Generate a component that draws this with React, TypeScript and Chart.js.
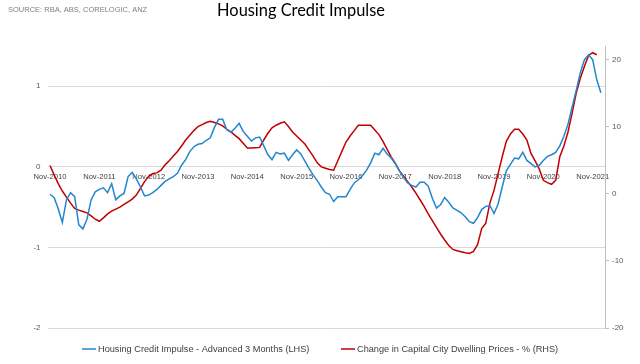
import React, { useEffect, useRef } from "react";
import { Chart, registerables } from "chart.js";

Chart.register(...registerables);

const titleText = "Housing Credit Impulse";
const sourceText = "SOURCE: RBA, ABS, CORELOGIC, ANZ";
const seriesNames = [
  "Housing Credit Impulse - Advanced 3 Months (LHS)",
  "Change in Capital City Dwelling Prices - % (RHS)",
];
const monthNames = ["Jan", "Feb", "Mar", "Apr", "May", "Jun", "Jul", "Aug", "Sep", "Oct", "Nov", "Dec"];
// monthly categories Nov-2010 .. Feb-2022
const categories: string[] = [];
for (let i = 0; i < 136; i++) {
  const m = (10 + i) % 12;
  const y = 2010 + Math.floor((10 + i) / 12);
  categories.push(`${monthNames[m]}-${y}`);
}

const creditImpulse = [
  -0.34, -0.38, -0.52, -0.69, -0.41, -0.32, -0.37, -0.72, -0.77, -0.65,
  -0.41, -0.31, -0.28, -0.26, -0.32, -0.21, -0.41, -0.36, -0.33, -0.12,
  -0.07, -0.15, -0.25, -0.36, -0.35, -0.32, -0.28, -0.23, -0.18, -0.15,
  -0.12, -0.08, 0.02, 0.09, 0.19, 0.25, 0.28, 0.29, 0.33, 0.36,
  0.49, 0.59, 0.59, 0.46, 0.43, 0.48, 0.54, 0.44, 0.38, 0.32,
  0.36, 0.37, 0.26, 0.15, 0.09, 0.18, 0.16, 0.17, 0.08, 0.15,
  0.21, 0.16, 0.07, -0.02, -0.1, -0.17, -0.25, -0.32, -0.34, -0.43,
  -0.37, -0.37, -0.37, -0.28, -0.2, -0.16, -0.11, -0.04, 0.05, 0.17,
  0.15, 0.23, 0.16, 0.11, 0.04, -0.05, -0.13, -0.2, -0.23, -0.25,
  -0.19, -0.19, -0.24, -0.39, -0.51, -0.47, -0.38, -0.44, -0.51, -0.54,
  -0.57, -0.62, -0.68, -0.7, -0.63, -0.53, -0.49, -0.48, -0.58, -0.46,
  -0.25, -0.05, 0.03, 0.11, 0.1, 0.18, 0.08, 0.04, 0.0, 0.02,
  0.08, 0.13, 0.15, 0.18, 0.26, 0.38, 0.53, 0.74, 0.95, 1.17,
  1.33, 1.39, 1.33, 1.08, 0.92,
];

const dwellingPrices = [
  4.2, 2.8, 1.5, 0.4, -0.5, -1.4, -2.2, -2.45, -2.65, -2.85,
  -3.3, -3.8, -4.1, -3.6, -3.0, -2.6, -2.3, -2.0, -1.6, -1.2,
  -0.8, -0.2, 0.8, 1.8, 2.6, 3.0, 3.1, 3.5, 4.3, 4.9,
  5.6, 6.3, 7.1, 8.0, 8.7, 9.4, 10.0, 10.3, 10.6, 10.8,
  10.6, 10.4, 10.1, 9.6, 9.2, 8.7, 8.2, 7.5, 6.8, 6.8,
  6.85, 6.9, 8.0, 9.0, 9.8, 10.2, 10.5, 10.7, 10.0, 9.2,
  8.6, 8.0, 7.4, 6.5, 5.6, 4.6, 4.0, 3.8, 3.6, 3.5,
  4.9, 6.3, 7.7, 8.6, 9.4, 10.2, 10.2, 10.2, 10.2, 9.5,
  8.8, 7.8, 6.6, 5.5, 4.5, 3.4, 2.6, 1.8, 1.0, 0.1,
  -0.9, -1.9, -3.0, -4.0, -5.0, -6.0, -6.9, -7.7, -8.3, -8.5,
  -8.65, -8.8, -8.9, -8.6, -7.6, -5.2, -4.4, -1.4, 0.5, 3.0,
  5.5, 7.8, 8.9, 9.6, 9.6, 8.9, 8.0, 6.0, 4.9, 3.7,
  2.0, 1.65, 1.4, 2.0, 5.5, 7.1, 9.2, 12.0, 15.0, 17.2,
  19.0, 20.6, 21.0, 20.7,
];

const BLUE = "#2386CE";
const RED = "#C00000";
const AXIS_FONT = "'Liberation Sans', Arial, sans-serif";

const decorPlugin = {
  id: "decor",
  afterDraw(chart: any) {
    const ctx = chart.ctx;
    ctx.save();
    // source
    ctx.fillStyle = "#7f7f7f";
    ctx.font = `7.5px ${AXIS_FONT}`;
    ctx.textAlign = "left";
    ctx.textBaseline = "middle";
    ctx.fillText(sourceText, 8, 10);
    // title
    ctx.fillStyle = "#000000";
    ctx.font = "16.4px Lato, 'Open Sans', sans-serif";
    ctx.textAlign = "center";
    ctx.fillText(titleText, 301, 11);
    // legend
    const items = [
      { x: 82, color: BLUE, text: seriesNames[0] },
      { x: 341, color: RED, text: seriesNames[1] },
    ];
    ctx.font = `9.2px ${AXIS_FONT}`;
    ctx.textAlign = "left";
    for (const it of items) {
      ctx.strokeStyle = it.color;
      ctx.lineWidth = 1.5;
      ctx.beginPath();
      ctx.moveTo(it.x, 349);
      ctx.lineTo(it.x + 14, 349);
      ctx.stroke();
      ctx.fillStyle = "#404040";
      ctx.fillText(it.text, it.x + 16, 349);
    }
    ctx.restore();
  },
};

export default function App() {
  const ref = useRef<HTMLCanvasElement>(null);
  useEffect(() => {
    document.body.style.margin = "0";
    const chart = new Chart(ref.current as HTMLCanvasElement, {
      type: "line",
      data: {
        labels: categories,
        datasets: [
          {
            label: seriesNames[0],
            data: creditImpulse,
            borderColor: BLUE,
            backgroundColor: BLUE,
            borderWidth: 1.5,
            pointRadius: 0,
            tension: 0,
            yAxisID: "y",
          },
          {
            label: seriesNames[1],
            data: dwellingPrices,
            borderColor: RED,
            backgroundColor: RED,
            borderWidth: 1.5,
            pointRadius: 0,
            tension: 0,
            yAxisID: "y1",
          },
        ],
      },
      options: {
        animation: false,
        responsive: false,
        layout: { padding: { top: 46, bottom: 36, left: 0, right: 0 } },
        plugins: {
          legend: { display: false },
          tooltip: { enabled: false },
          title: { display: false },
        },
        scales: {
          x: {
            type: "category",
            position: { y: 0 } as any,
            grid: { display: false, drawTicks: false },
            border: { display: false },
            ticks: {
              autoSkip: false,
              maxRotation: 0,
              minRotation: 0,
              padding: 5,
              color: "#404040",
              font: { family: AXIS_FONT, size: 7.6 },
              callback: (_v: any, i: number) => (i % 12 === 0 ? categories[i] : ""),
            },
          },
          y: {
            type: "linear",
            position: "left",
            min: -2,
            max: 1.5,
            afterFit: (s: any) => {
              s.width = 50;
            },
            grid: { color: "#d9d9d9", lineWidth: 1, drawTicks: true, tickLength: 2 },
            border: { display: false },
            ticks: {
              stepSize: 1,
              includeBounds: false,
              padding: 7.5,
              color: "#595959",
              font: { family: AXIS_FONT, size: 8 },
            } as any,
          },
          y1: {
            type: "linear",
            position: "right",
            min: -20,
            max: 22,
            afterFit: (s: any) => {
              s.width = 35;
            },
            grid: { drawOnChartArea: false, color: "#bfbfbf", drawTicks: true, tickLength: 4 },
            border: { display: true, color: "#bfbfbf", width: 1 },
            ticks: {
              stepSize: 10,
              includeBounds: false,
              padding: 3,
              color: "#595959",
              font: { family: AXIS_FONT, size: 8 },
            } as any,
          },
        },
      },
      plugins: [decorPlugin],
    });
    return () => chart.destroy();
  }, []);
  return (
    <div style={{ width: 640, height: 364 }}>
      <canvas ref={ref} width={640} height={364} />
    </div>
  );
}
